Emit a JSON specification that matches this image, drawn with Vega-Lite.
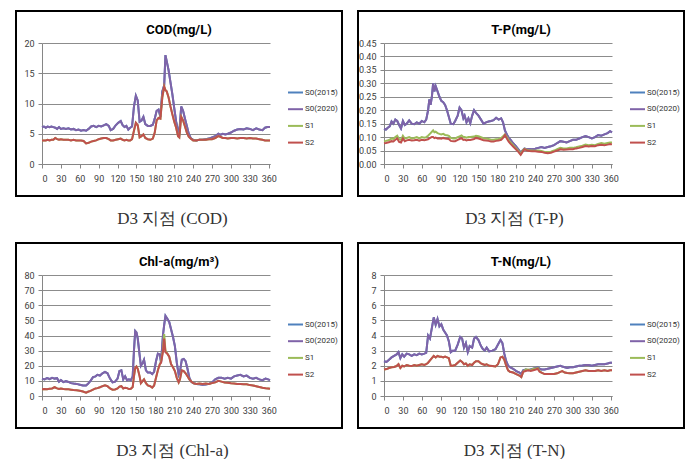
{
"$schema": "https://vega.github.io/schema/vega-lite/v6.json",
"padding": {"left": 15, "top": 10, "right": 0, "bottom": 0},
"background": "#ffffff",
"config": {
  "view": {"stroke": "#000000", "strokeWidth": 2},
  "font": "Roboto",
  "axis": {"labelFont": "Roboto", "labelFontSize": 9, "labelColor": "#404040", "domainColor": "#868686", "tickColor": "#868686", "gridColor": "#8c8c8c", "gridWidth": 1, "tickSize": 4, "titleFont": "Liberation Serif", "titleFontSize": 17, "titleFontWeight": "normal", "titleColor": "#333333"},
  "legend": {"symbolType": "stroke", "symbolSize": 225, "symbolStrokeWidth": 2.5, "labelFont": "Roboto", "labelFontSize": 8, "labelColor": "#333333", "labelOffset": 1, "rowPadding": 3.7, "padding": 0},
  "title": {"font": "Roboto", "fontSize": 13, "fontWeight": "bold", "color": "#000000"},
  "line": {"strokeWidth": 2}
},
"datasets": {
"cod": [
{"day":0,"S0(2015)":6.1,"S0(2020)":6.1,"S1":3.9,"S2":3.9},
{"day":3,"S0(2015)":6.2,"S0(2020)":6.2,"S1":3.9,"S2":3.9},
{"day":6,"S0(2015)":6.0,"S0(2020)":6.0,"S1":3.9,"S2":3.9},
{"day":9,"S0(2015)":6.2,"S0(2020)":6.2,"S1":4.0,"S2":4.0},
{"day":12,"S0(2015)":6.1,"S0(2020)":6.1,"S1":3.9,"S2":3.9},
{"day":15,"S0(2015)":6.2,"S0(2020)":6.2,"S1":4.0,"S2":4.0},
{"day":18,"S0(2015)":6.1,"S0(2020)":6.1,"S1":4.0,"S2":4.0},
{"day":21,"S0(2015)":6.0,"S0(2020)":6.0,"S1":4.3,"S2":4.3},
{"day":24,"S0(2015)":5.8,"S0(2020)":5.8,"S1":4.1,"S2":4.1},
{"day":27,"S0(2015)":6.1,"S0(2020)":6.1,"S1":4.0,"S2":4.0},
{"day":30,"S0(2015)":5.8,"S0(2020)":5.8,"S1":4.1,"S2":4.1},
{"day":34,"S0(2015)":5.9,"S0(2020)":5.9,"S1":4.0,"S2":4.0},
{"day":38,"S0(2015)":5.8,"S0(2020)":5.8,"S1":4.0,"S2":4.0},
{"day":42,"S0(2015)":5.9,"S0(2020)":5.9,"S1":4.0,"S2":4.0},
{"day":46,"S0(2015)":5.7,"S0(2020)":5.7,"S1":3.9,"S2":3.9},
{"day":50,"S0(2015)":5.8,"S0(2020)":5.8,"S1":4.0,"S2":4.0},
{"day":54,"S0(2015)":5.6,"S0(2020)":5.6,"S1":3.9,"S2":3.9},
{"day":58,"S0(2015)":5.7,"S0(2020)":5.7,"S1":3.9,"S2":3.9},
{"day":62,"S0(2015)":5.5,"S0(2020)":5.5,"S1":3.9,"S2":3.9},
{"day":66,"S0(2015)":5.6,"S0(2020)":5.6,"S1":3.8,"S2":3.8},
{"day":70,"S0(2015)":5.5,"S0(2020)":5.5,"S1":3.4,"S2":3.4},
{"day":74,"S0(2015)":5.8,"S0(2020)":5.8,"S1":3.5,"S2":3.5},
{"day":78,"S0(2015)":6.2,"S0(2020)":6.2,"S1":3.7,"S2":3.7},
{"day":82,"S0(2015)":6.3,"S0(2020)":6.3,"S1":3.8,"S2":3.8},
{"day":86,"S0(2015)":6.1,"S0(2020)":6.1,"S1":3.9,"S2":3.9},
{"day":90,"S0(2015)":6.3,"S0(2020)":6.3,"S1":4.1,"S2":4.1},
{"day":94,"S0(2015)":6.2,"S0(2020)":6.2,"S1":4.2,"S2":4.2},
{"day":98,"S0(2015)":6.4,"S0(2020)":6.4,"S1":4.3,"S2":4.3},
{"day":102,"S0(2015)":6.6,"S0(2020)":6.6,"S1":4.3,"S2":4.3},
{"day":106,"S0(2015)":6.3,"S0(2020)":6.3,"S1":4.1,"S2":4.1},
{"day":109,"S0(2015)":5.6,"S0(2020)":5.6,"S1":3.9,"S2":3.9},
{"day":113,"S0(2015)":5.8,"S0(2020)":5.8,"S1":3.9,"S2":3.9},
{"day":117,"S0(2015)":6.4,"S0(2020)":6.4,"S1":4.0,"S2":4.0},
{"day":121,"S0(2015)":6.8,"S0(2020)":6.8,"S1":4.1,"S2":4.1},
{"day":125,"S0(2015)":7.1,"S0(2020)":7.1,"S1":4.2,"S2":4.2},
{"day":128,"S0(2015)":6.4,"S0(2020)":6.4,"S1":4.0,"S2":4.0},
{"day":131,"S0(2015)":6.1,"S0(2020)":6.1,"S1":3.9,"S2":3.9},
{"day":134,"S0(2015)":6.3,"S0(2020)":6.3,"S1":4.0,"S2":4.0},
{"day":137,"S0(2015)":5.7,"S0(2020)":5.7,"S1":3.9,"S2":3.9},
{"day":140,"S0(2015)":6.0,"S0(2020)":6.0,"S1":3.9,"S2":3.9},
{"day":143,"S0(2015)":6.2,"S0(2020)":6.2,"S1":4.1,"S2":4.1},
{"day":146,"S0(2015)":9.5,"S0(2020)":9.5,"S1":5.5,"S2":5.5},
{"day":149,"S0(2015)":11.3,"S0(2020)":11.3,"S1":6.8,"S2":6.8},
{"day":152,"S0(2015)":10.5,"S0(2020)":10.5,"S1":6.4,"S2":6.4},
{"day":155,"S0(2015)":7.0,"S0(2020)":7.0,"S1":4.4,"S2":4.4},
{"day":158,"S0(2015)":7.2,"S0(2020)":7.2,"S1":4.6,"S2":4.6},
{"day":161,"S0(2015)":7.8,"S0(2020)":7.8,"S1":4.9,"S2":4.9},
{"day":164,"S0(2015)":6.6,"S0(2020)":6.6,"S1":4.3,"S2":4.3},
{"day":168,"S0(2015)":6.3,"S0(2020)":6.3,"S1":4.1,"S2":4.1},
{"day":172,"S0(2015)":6.3,"S0(2020)":6.3,"S1":4.0,"S2":4.0},
{"day":176,"S0(2015)":6.5,"S0(2020)":6.5,"S1":4.2,"S2":4.2},
{"day":179,"S0(2015)":7.5,"S0(2020)":7.5,"S1":5.2,"S2":5.2},
{"day":182,"S0(2015)":8.8,"S0(2020)":8.8,"S1":7.2,"S2":7.2},
{"day":185,"S0(2015)":9.0,"S0(2020)":9.0,"S1":7.6,"S2":7.6},
{"day":188,"S0(2015)":7.8,"S0(2020)":7.8,"S1":7.5,"S2":7.5},
{"day":191,"S0(2015)":12.0,"S0(2020)":12.0,"S1":11.0,"S2":11.0},
{"day":194,"S0(2015)":13.0,"S0(2020)":13.0,"S1":12.8,"S2":12.8},
{"day":196,"S0(2015)":18.0,"S0(2020)":18.0,"S1":12.2,"S2":12.2},
{"day":198,"S0(2015)":17.0,"S0(2020)":17.0,"S1":12.0,"S2":12.0},
{"day":201,"S0(2015)":15.5,"S0(2020)":15.5,"S1":11.0,"S2":11.0},
{"day":204,"S0(2015)":13.5,"S0(2020)":13.5,"S1":9.5,"S2":9.5},
{"day":207,"S0(2015)":11.5,"S0(2020)":11.5,"S1":8.2,"S2":8.2},
{"day":210,"S0(2015)":9.2,"S0(2020)":9.2,"S1":7.0,"S2":7.0},
{"day":213,"S0(2015)":7.0,"S0(2020)":7.0,"S1":6.0,"S2":6.0},
{"day":216,"S0(2015)":5.5,"S0(2020)":5.5,"S1":4.6,"S2":4.6},
{"day":218,"S0(2015)":5.2,"S0(2020)":5.2,"S1":4.4,"S2":4.4},
{"day":221,"S0(2015)":9.5,"S0(2020)":9.5,"S1":7.8,"S2":7.8},
{"day":224,"S0(2015)":8.8,"S0(2020)":8.8,"S1":7.2,"S2":7.2},
{"day":227,"S0(2015)":7.5,"S0(2020)":7.5,"S1":6.2,"S2":6.2},
{"day":230,"S0(2015)":6.3,"S0(2020)":6.3,"S1":5.2,"S2":5.2},
{"day":233,"S0(2015)":5.0,"S0(2020)":5.0,"S1":4.5,"S2":4.5},
{"day":236,"S0(2015)":4.3,"S0(2020)":4.3,"S1":4.2,"S2":4.2},
{"day":240,"S0(2015)":4.0,"S0(2020)":4.0,"S1":3.9,"S2":3.9},
{"day":245,"S0(2015)":3.9,"S0(2020)":3.9,"S1":3.9,"S2":3.9},
{"day":250,"S0(2015)":4.0,"S0(2020)":4.0,"S1":4.0,"S2":4.0},
{"day":255,"S0(2015)":4.0,"S0(2020)":4.0,"S1":4.0,"S2":4.0},
{"day":260,"S0(2015)":4.1,"S0(2020)":4.1,"S1":4.0,"S2":4.0},
{"day":265,"S0(2015)":4.2,"S0(2020)":4.2,"S1":4.1,"S2":4.1},
{"day":270,"S0(2015)":4.4,"S0(2020)":4.4,"S1":4.1,"S2":4.1},
{"day":275,"S0(2015)":4.6,"S0(2020)":4.6,"S1":4.3,"S2":4.3},
{"day":280,"S0(2015)":5.0,"S0(2020)":5.0,"S1":4.6,"S2":4.6},
{"day":283,"S0(2015)":4.8,"S0(2020)":4.8,"S1":4.5,"S2":4.5},
{"day":287,"S0(2015)":5.0,"S0(2020)":5.0,"S1":4.3,"S2":4.3},
{"day":291,"S0(2015)":4.9,"S0(2020)":4.9,"S1":4.3,"S2":4.3},
{"day":295,"S0(2015)":5.0,"S0(2020)":5.0,"S1":4.2,"S2":4.2},
{"day":300,"S0(2015)":5.2,"S0(2020)":5.2,"S1":4.3,"S2":4.3},
{"day":305,"S0(2015)":5.5,"S0(2020)":5.5,"S1":4.3,"S2":4.3},
{"day":310,"S0(2015)":5.7,"S0(2020)":5.7,"S1":4.2,"S2":4.2},
{"day":315,"S0(2015)":5.8,"S0(2020)":5.8,"S1":4.3,"S2":4.3},
{"day":320,"S0(2015)":5.7,"S0(2020)":5.7,"S1":4.3,"S2":4.3},
{"day":325,"S0(2015)":5.9,"S0(2020)":5.9,"S1":4.2,"S2":4.2},
{"day":330,"S0(2015)":5.8,"S0(2020)":5.8,"S1":4.3,"S2":4.3},
{"day":335,"S0(2015)":5.6,"S0(2020)":5.6,"S1":4.2,"S2":4.2},
{"day":340,"S0(2015)":5.9,"S0(2020)":5.9,"S1":4.2,"S2":4.2},
{"day":345,"S0(2015)":5.7,"S0(2020)":5.7,"S1":4.1,"S2":4.1},
{"day":350,"S0(2015)":5.6,"S0(2020)":5.6,"S1":4.0,"S2":4.0},
{"day":354,"S0(2015)":6.0,"S0(2020)":6.0,"S1":3.9,"S2":3.9},
{"day":358,"S0(2015)":6.1,"S0(2020)":6.1,"S1":3.9,"S2":3.9},
{"day":362,"S0(2015)":6.1,"S0(2020)":6.1,"S1":3.9,"S2":3.9}
],
"tp": [
{"day":0,"S0(2015)":0.130,"S0(2020)":0.130,"S1":0.085,"S2":0.077},
{"day":3,"S0(2015)":0.128,"S0(2020)":0.128,"S1":0.086,"S2":0.078},
{"day":6,"S0(2015)":0.135,"S0(2020)":0.135,"S1":0.088,"S2":0.080},
{"day":9,"S0(2015)":0.140,"S0(2020)":0.140,"S1":0.090,"S2":0.082},
{"day":12,"S0(2015)":0.158,"S0(2020)":0.158,"S1":0.095,"S2":0.085},
{"day":15,"S0(2015)":0.150,"S0(2020)":0.150,"S1":0.093,"S2":0.084},
{"day":18,"S0(2015)":0.165,"S0(2020)":0.165,"S1":0.100,"S2":0.090},
{"day":21,"S0(2015)":0.160,"S0(2020)":0.160,"S1":0.105,"S2":0.095},
{"day":24,"S0(2015)":0.145,"S0(2020)":0.145,"S1":0.092,"S2":0.082},
{"day":27,"S0(2015)":0.132,"S0(2020)":0.132,"S1":0.090,"S2":0.080},
{"day":30,"S0(2015)":0.160,"S0(2020)":0.160,"S1":0.105,"S2":0.095},
{"day":33,"S0(2015)":0.145,"S0(2020)":0.145,"S1":0.095,"S2":0.085},
{"day":36,"S0(2015)":0.150,"S0(2020)":0.150,"S1":0.097,"S2":0.088},
{"day":40,"S0(2015)":0.162,"S0(2020)":0.162,"S1":0.100,"S2":0.090},
{"day":44,"S0(2015)":0.150,"S0(2020)":0.150,"S1":0.095,"S2":0.087},
{"day":48,"S0(2015)":0.148,"S0(2020)":0.148,"S1":0.097,"S2":0.088},
{"day":52,"S0(2015)":0.155,"S0(2020)":0.155,"S1":0.100,"S2":0.090},
{"day":56,"S0(2015)":0.150,"S0(2020)":0.150,"S1":0.095,"S2":0.087},
{"day":60,"S0(2015)":0.160,"S0(2020)":0.160,"S1":0.100,"S2":0.090},
{"day":64,"S0(2015)":0.155,"S0(2020)":0.155,"S1":0.098,"S2":0.088},
{"day":67,"S0(2015)":0.165,"S0(2020)":0.165,"S1":0.100,"S2":0.090},
{"day":70,"S0(2015)":0.200,"S0(2020)":0.200,"S1":0.105,"S2":0.092},
{"day":72,"S0(2015)":0.240,"S0(2020)":0.240,"S1":0.110,"S2":0.095},
{"day":74,"S0(2015)":0.220,"S0(2020)":0.220,"S1":0.115,"S2":0.098},
{"day":76,"S0(2015)":0.250,"S0(2020)":0.250,"S1":0.120,"S2":0.100},
{"day":78,"S0(2015)":0.300,"S0(2020)":0.300,"S1":0.125,"S2":0.100},
{"day":80,"S0(2015)":0.270,"S0(2020)":0.270,"S1":0.118,"S2":0.096},
{"day":82,"S0(2015)":0.290,"S0(2020)":0.290,"S1":0.120,"S2":0.098},
{"day":85,"S0(2015)":0.270,"S0(2020)":0.270,"S1":0.115,"S2":0.095},
{"day":88,"S0(2015)":0.250,"S0(2020)":0.250,"S1":0.112,"S2":0.096},
{"day":91,"S0(2015)":0.235,"S0(2020)":0.235,"S1":0.110,"S2":0.094},
{"day":94,"S0(2015)":0.230,"S0(2020)":0.230,"S1":0.112,"S2":0.097},
{"day":97,"S0(2015)":0.220,"S0(2020)":0.220,"S1":0.108,"S2":0.095},
{"day":100,"S0(2015)":0.200,"S0(2020)":0.200,"S1":0.107,"S2":0.094},
{"day":103,"S0(2015)":0.175,"S0(2020)":0.175,"S1":0.105,"S2":0.093},
{"day":106,"S0(2015)":0.150,"S0(2020)":0.150,"S1":0.097,"S2":0.086},
{"day":110,"S0(2015)":0.148,"S0(2020)":0.148,"S1":0.095,"S2":0.085},
{"day":113,"S0(2015)":0.160,"S0(2020)":0.160,"S1":0.095,"S2":0.085},
{"day":117,"S0(2015)":0.180,"S0(2020)":0.180,"S1":0.100,"S2":0.090},
{"day":120,"S0(2015)":0.210,"S0(2020)":0.210,"S1":0.103,"S2":0.093},
{"day":123,"S0(2015)":0.200,"S0(2020)":0.200,"S1":0.106,"S2":0.096},
{"day":126,"S0(2015)":0.170,"S0(2020)":0.170,"S1":0.100,"S2":0.090},
{"day":128,"S0(2015)":0.180,"S0(2020)":0.180,"S1":0.100,"S2":0.091},
{"day":131,"S0(2015)":0.155,"S0(2020)":0.155,"S1":0.098,"S2":0.088},
{"day":134,"S0(2015)":0.170,"S0(2020)":0.170,"S1":0.100,"S2":0.090},
{"day":137,"S0(2015)":0.152,"S0(2020)":0.152,"S1":0.100,"S2":0.089},
{"day":140,"S0(2015)":0.180,"S0(2020)":0.180,"S1":0.101,"S2":0.091},
{"day":143,"S0(2015)":0.200,"S0(2020)":0.200,"S1":0.102,"S2":0.093},
{"day":146,"S0(2015)":0.190,"S0(2020)":0.190,"S1":0.105,"S2":0.097},
{"day":150,"S0(2015)":0.180,"S0(2020)":0.180,"S1":0.103,"S2":0.095},
{"day":154,"S0(2015)":0.165,"S0(2020)":0.165,"S1":0.100,"S2":0.092},
{"day":158,"S0(2015)":0.150,"S0(2020)":0.150,"S1":0.096,"S2":0.088},
{"day":162,"S0(2015)":0.155,"S0(2020)":0.155,"S1":0.095,"S2":0.087},
{"day":166,"S0(2015)":0.158,"S0(2020)":0.158,"S1":0.093,"S2":0.086},
{"day":170,"S0(2015)":0.160,"S0(2020)":0.160,"S1":0.090,"S2":0.084},
{"day":174,"S0(2015)":0.163,"S0(2020)":0.163,"S1":0.090,"S2":0.084},
{"day":178,"S0(2015)":0.172,"S0(2020)":0.172,"S1":0.092,"S2":0.086},
{"day":182,"S0(2015)":0.165,"S0(2020)":0.165,"S1":0.093,"S2":0.087},
{"day":186,"S0(2015)":0.170,"S0(2020)":0.170,"S1":0.097,"S2":0.090},
{"day":189,"S0(2015)":0.155,"S0(2020)":0.155,"S1":0.103,"S2":0.097},
{"day":192,"S0(2015)":0.125,"S0(2020)":0.125,"S1":0.110,"S2":0.108},
{"day":195,"S0(2015)":0.110,"S0(2020)":0.110,"S1":0.100,"S2":0.095},
{"day":198,"S0(2015)":0.098,"S0(2020)":0.098,"S1":0.088,"S2":0.083},
{"day":201,"S0(2015)":0.090,"S0(2020)":0.090,"S1":0.080,"S2":0.075},
{"day":205,"S0(2015)":0.077,"S0(2020)":0.077,"S1":0.070,"S2":0.065},
{"day":209,"S0(2015)":0.067,"S0(2020)":0.067,"S1":0.060,"S2":0.056},
{"day":213,"S0(2015)":0.055,"S0(2020)":0.055,"S1":0.050,"S2":0.046},
{"day":217,"S0(2015)":0.042,"S0(2020)":0.042,"S1":0.037,"S2":0.034},
{"day":220,"S0(2015)":0.050,"S0(2020)":0.050,"S1":0.050,"S2":0.045},
{"day":223,"S0(2015)":0.057,"S0(2020)":0.057,"S1":0.056,"S2":0.055},
{"day":227,"S0(2015)":0.055,"S0(2020)":0.055,"S1":0.052,"S2":0.050},
{"day":231,"S0(2015)":0.056,"S0(2020)":0.056,"S1":0.050,"S2":0.048},
{"day":235,"S0(2015)":0.055,"S0(2020)":0.055,"S1":0.050,"S2":0.047},
{"day":240,"S0(2015)":0.057,"S0(2020)":0.057,"S1":0.049,"S2":0.047},
{"day":245,"S0(2015)":0.060,"S0(2020)":0.060,"S1":0.050,"S2":0.046},
{"day":250,"S0(2015)":0.063,"S0(2020)":0.063,"S1":0.048,"S2":0.045},
{"day":255,"S0(2015)":0.060,"S0(2020)":0.060,"S1":0.045,"S2":0.042},
{"day":260,"S0(2015)":0.063,"S0(2020)":0.063,"S1":0.045,"S2":0.040},
{"day":265,"S0(2015)":0.066,"S0(2020)":0.066,"S1":0.046,"S2":0.042},
{"day":270,"S0(2015)":0.070,"S0(2020)":0.070,"S1":0.050,"S2":0.046},
{"day":275,"S0(2015)":0.078,"S0(2020)":0.078,"S1":0.055,"S2":0.050},
{"day":280,"S0(2015)":0.085,"S0(2020)":0.085,"S1":0.060,"S2":0.055},
{"day":285,"S0(2015)":0.083,"S0(2020)":0.083,"S1":0.058,"S2":0.053},
{"day":290,"S0(2015)":0.080,"S0(2020)":0.080,"S1":0.058,"S2":0.054},
{"day":295,"S0(2015)":0.085,"S0(2020)":0.085,"S1":0.060,"S2":0.055},
{"day":300,"S0(2015)":0.090,"S0(2020)":0.090,"S1":0.060,"S2":0.055},
{"day":305,"S0(2015)":0.090,"S0(2020)":0.090,"S1":0.062,"S2":0.058},
{"day":310,"S0(2015)":0.095,"S0(2020)":0.095,"S1":0.065,"S2":0.060},
{"day":315,"S0(2015)":0.100,"S0(2020)":0.100,"S1":0.068,"S2":0.063},
{"day":320,"S0(2015)":0.104,"S0(2020)":0.104,"S1":0.072,"S2":0.067},
{"day":325,"S0(2015)":0.100,"S0(2020)":0.100,"S1":0.070,"S2":0.065},
{"day":330,"S0(2015)":0.095,"S0(2020)":0.095,"S1":0.072,"S2":0.067},
{"day":335,"S0(2015)":0.100,"S0(2020)":0.100,"S1":0.070,"S2":0.066},
{"day":340,"S0(2015)":0.108,"S0(2020)":0.108,"S1":0.075,"S2":0.070},
{"day":345,"S0(2015)":0.105,"S0(2020)":0.105,"S1":0.078,"S2":0.072},
{"day":350,"S0(2015)":0.110,"S0(2020)":0.110,"S1":0.075,"S2":0.070},
{"day":355,"S0(2015)":0.115,"S0(2020)":0.115,"S1":0.078,"S2":0.072},
{"day":359,"S0(2015)":0.122,"S0(2020)":0.122,"S1":0.080,"S2":0.074},
{"day":362,"S0(2015)":0.118,"S0(2020)":0.118,"S1":0.080,"S2":0.073}
],
"chl": [
{"day":0,"S0(2015)":11.5,"S0(2020)":11.5,"S1":4.5,"S2":4.5},
{"day":4,"S0(2015)":11.0,"S0(2020)":11.0,"S1":4.6,"S2":4.6},
{"day":8,"S0(2015)":11.8,"S0(2020)":11.8,"S1":4.5,"S2":4.5},
{"day":12,"S0(2015)":11.2,"S0(2020)":11.2,"S1":4.8,"S2":4.8},
{"day":16,"S0(2015)":12.0,"S0(2020)":12.0,"S1":5.0,"S2":5.0},
{"day":20,"S0(2015)":11.5,"S0(2020)":11.5,"S1":5.8,"S2":5.8},
{"day":24,"S0(2015)":11.8,"S0(2020)":11.8,"S1":5.0,"S2":5.0},
{"day":27,"S0(2015)":9.5,"S0(2020)":9.5,"S1":4.6,"S2":4.6},
{"day":30,"S0(2015)":10.5,"S0(2020)":10.5,"S1":5.0,"S2":5.0},
{"day":34,"S0(2015)":9.2,"S0(2020)":9.2,"S1":4.6,"S2":4.6},
{"day":38,"S0(2015)":9.8,"S0(2020)":9.8,"S1":4.5,"S2":4.5},
{"day":42,"S0(2015)":9.3,"S0(2020)":9.3,"S1":4.4,"S2":4.4},
{"day":46,"S0(2015)":8.5,"S0(2020)":8.5,"S1":4.2,"S2":4.2},
{"day":50,"S0(2015)":8.2,"S0(2020)":8.2,"S1":4.0,"S2":4.0},
{"day":55,"S0(2015)":8.0,"S0(2020)":8.0,"S1":3.8,"S2":3.8},
{"day":60,"S0(2015)":7.5,"S0(2020)":7.5,"S1":3.5,"S2":3.5},
{"day":65,"S0(2015)":7.0,"S0(2020)":7.0,"S1":3.0,"S2":3.0},
{"day":70,"S0(2015)":7.0,"S0(2020)":7.0,"S1":2.2,"S2":2.2},
{"day":73,"S0(2015)":8.0,"S0(2020)":8.0,"S1":2.8,"S2":2.8},
{"day":77,"S0(2015)":10.0,"S0(2020)":10.0,"S1":3.4,"S2":3.4},
{"day":81,"S0(2015)":12.5,"S0(2020)":12.5,"S1":4.2,"S2":4.2},
{"day":85,"S0(2015)":13.0,"S0(2020)":13.0,"S1":5.0,"S2":5.0},
{"day":88,"S0(2015)":14.0,"S0(2020)":14.0,"S1":5.2,"S2":5.2},
{"day":92,"S0(2015)":13.5,"S0(2020)":13.5,"S1":5.8,"S2":5.8},
{"day":96,"S0(2015)":15.0,"S0(2020)":15.0,"S1":6.5,"S2":6.5},
{"day":100,"S0(2015)":16.0,"S0(2020)":16.0,"S1":7.0,"S2":7.0},
{"day":104,"S0(2015)":15.0,"S0(2020)":15.0,"S1":6.5,"S2":6.5},
{"day":108,"S0(2015)":11.5,"S0(2020)":11.5,"S1":5.0,"S2":5.0},
{"day":112,"S0(2015)":9.0,"S0(2020)":9.0,"S1":4.2,"S2":4.2},
{"day":116,"S0(2015)":9.5,"S0(2020)":9.5,"S1":4.3,"S2":4.3},
{"day":120,"S0(2015)":11.5,"S0(2020)":11.5,"S1":5.0,"S2":5.0},
{"day":123,"S0(2015)":16.5,"S0(2020)":16.5,"S1":6.2,"S2":6.2},
{"day":126,"S0(2015)":17.0,"S0(2020)":17.0,"S1":6.5,"S2":6.5},
{"day":129,"S0(2015)":11.0,"S0(2020)":11.0,"S1":5.0,"S2":5.0},
{"day":132,"S0(2015)":13.0,"S0(2020)":13.0,"S1":5.5,"S2":5.5},
{"day":135,"S0(2015)":10.5,"S0(2020)":10.5,"S1":5.2,"S2":5.2},
{"day":138,"S0(2015)":11.0,"S0(2020)":11.0,"S1":4.6,"S2":4.6},
{"day":141,"S0(2015)":10.5,"S0(2020)":10.5,"S1":4.8,"S2":4.8},
{"day":144,"S0(2015)":13.0,"S0(2020)":13.0,"S1":6.0,"S2":6.0},
{"day":146,"S0(2015)":30.0,"S0(2020)":30.0,"S1":13.0,"S2":13.0},
{"day":148,"S0(2015)":43.0,"S0(2020)":43.0,"S1":18.5,"S2":18.5},
{"day":150,"S0(2015)":42.0,"S0(2020)":42.0,"S1":19.5,"S2":19.5},
{"day":152,"S0(2015)":38.0,"S0(2020)":38.0,"S1":18.0,"S2":18.0},
{"day":155,"S0(2015)":27.0,"S0(2020)":27.0,"S1":13.0,"S2":13.0},
{"day":157,"S0(2015)":20.0,"S0(2020)":20.0,"S1":8.5,"S2":8.5},
{"day":160,"S0(2015)":22.0,"S0(2020)":22.0,"S1":10.0,"S2":10.0},
{"day":162,"S0(2015)":24.0,"S0(2020)":24.0,"S1":11.0,"S2":11.0},
{"day":165,"S0(2015)":17.0,"S0(2020)":17.0,"S1":8.5,"S2":8.5},
{"day":168,"S0(2015)":15.5,"S0(2020)":15.5,"S1":7.0,"S2":7.0},
{"day":172,"S0(2015)":15.5,"S0(2020)":15.5,"S1":6.5,"S2":6.5},
{"day":175,"S0(2015)":14.5,"S0(2020)":14.5,"S1":5.5,"S2":5.5},
{"day":178,"S0(2015)":16.0,"S0(2020)":16.0,"S1":7.0,"S2":7.0},
{"day":181,"S0(2015)":23.0,"S0(2020)":23.0,"S1":12.0,"S2":12.0},
{"day":184,"S0(2015)":28.0,"S0(2020)":28.0,"S1":17.0,"S2":17.0},
{"day":187,"S0(2015)":27.5,"S0(2020)":27.5,"S1":21.0,"S2":21.0},
{"day":189,"S0(2015)":22.0,"S0(2020)":22.0,"S1":23.0,"S2":22.0},
{"day":192,"S0(2015)":40.0,"S0(2020)":40.0,"S1":30.0,"S2":29.0},
{"day":194,"S0(2015)":47.0,"S0(2020)":47.0,"S1":41.0,"S2":38.0},
{"day":196,"S0(2015)":53.0,"S0(2020)":53.0,"S1":30.0,"S2":29.0},
{"day":199,"S0(2015)":51.0,"S0(2020)":51.0,"S1":28.0,"S2":28.0},
{"day":202,"S0(2015)":49.0,"S0(2020)":49.0,"S1":26.0,"S2":26.0},
{"day":205,"S0(2015)":44.0,"S0(2020)":44.0,"S1":21.0,"S2":21.0},
{"day":208,"S0(2015)":39.0,"S0(2020)":39.0,"S1":19.0,"S2":19.0},
{"day":211,"S0(2015)":33.0,"S0(2020)":33.0,"S1":16.5,"S2":16.5},
{"day":214,"S0(2015)":22.0,"S0(2020)":22.0,"S1":12.0,"S2":12.0},
{"day":217,"S0(2015)":14.0,"S0(2020)":14.0,"S1":9.0,"S2":9.0},
{"day":219,"S0(2015)":16.0,"S0(2020)":16.0,"S1":11.0,"S2":11.0},
{"day":222,"S0(2015)":24.0,"S0(2020)":24.0,"S1":17.0,"S2":17.0},
{"day":225,"S0(2015)":24.5,"S0(2020)":24.5,"S1":16.5,"S2":16.5},
{"day":228,"S0(2015)":23.0,"S0(2020)":23.0,"S1":15.0,"S2":15.0},
{"day":231,"S0(2015)":18.0,"S0(2020)":18.0,"S1":13.0,"S2":13.0},
{"day":234,"S0(2015)":12.0,"S0(2020)":12.0,"S1":11.0,"S2":11.0},
{"day":237,"S0(2015)":9.5,"S0(2020)":9.5,"S1":9.5,"S2":9.5},
{"day":240,"S0(2015)":8.5,"S0(2020)":8.5,"S1":8.5,"S2":8.5},
{"day":245,"S0(2015)":8.0,"S0(2020)":8.0,"S1":8.0,"S2":8.0},
{"day":250,"S0(2015)":7.8,"S0(2020)":7.8,"S1":8.2,"S2":8.2},
{"day":255,"S0(2015)":7.5,"S0(2020)":7.5,"S1":8.0,"S2":8.0},
{"day":260,"S0(2015)":7.6,"S0(2020)":7.6,"S1":8.2,"S2":8.2},
{"day":265,"S0(2015)":8.0,"S0(2020)":8.0,"S1":8.0,"S2":8.0},
{"day":270,"S0(2015)":9.0,"S0(2020)":9.0,"S1":8.5,"S2":8.5},
{"day":275,"S0(2015)":11.0,"S0(2020)":11.0,"S1":9.0,"S2":9.0},
{"day":280,"S0(2015)":12.0,"S0(2020)":12.0,"S1":10.0,"S2":10.0},
{"day":285,"S0(2015)":12.0,"S0(2020)":12.0,"S1":9.5,"S2":9.5},
{"day":290,"S0(2015)":11.5,"S0(2020)":11.5,"S1":9.0,"S2":9.0},
{"day":295,"S0(2015)":12.0,"S0(2020)":12.0,"S1":8.8,"S2":8.8},
{"day":300,"S0(2015)":11.5,"S0(2020)":11.5,"S1":8.5,"S2":8.5},
{"day":305,"S0(2015)":13.0,"S0(2020)":13.0,"S1":8.3,"S2":8.3},
{"day":310,"S0(2015)":13.5,"S0(2020)":13.5,"S1":8.0,"S2":8.0},
{"day":315,"S0(2015)":14.0,"S0(2020)":14.0,"S1":8.0,"S2":8.0},
{"day":320,"S0(2015)":13.0,"S0(2020)":13.0,"S1":7.8,"S2":7.8},
{"day":325,"S0(2015)":13.5,"S0(2020)":13.5,"S1":7.8,"S2":7.8},
{"day":330,"S0(2015)":12.0,"S0(2020)":12.0,"S1":7.2,"S2":7.2},
{"day":335,"S0(2015)":11.5,"S0(2020)":11.5,"S1":7.0,"S2":7.0},
{"day":340,"S0(2015)":12.0,"S0(2020)":12.0,"S1":6.5,"S2":6.5},
{"day":345,"S0(2015)":11.0,"S0(2020)":11.0,"S1":6.0,"S2":6.0},
{"day":350,"S0(2015)":10.5,"S0(2020)":10.5,"S1":5.5,"S2":5.5},
{"day":355,"S0(2015)":11.5,"S0(2020)":11.5,"S1":5.2,"S2":5.2},
{"day":359,"S0(2015)":11.0,"S0(2020)":11.0,"S1":5.0,"S2":5.0},
{"day":362,"S0(2015)":10.5,"S0(2020)":10.5,"S1":4.8,"S2":4.8}
],
"tn": [
{"day":0,"S0(2015)":2.3,"S0(2020)":2.3,"S1":1.75,"S2":1.75},
{"day":4,"S0(2015)":2.25,"S0(2020)":2.25,"S1":1.78,"S2":1.78},
{"day":8,"S0(2015)":2.4,"S0(2020)":2.4,"S1":1.85,"S2":1.85},
{"day":12,"S0(2015)":2.55,"S0(2020)":2.55,"S1":1.9,"S2":1.9},
{"day":16,"S0(2015)":2.65,"S0(2020)":2.65,"S1":1.92,"S2":1.92},
{"day":20,"S0(2015)":2.75,"S0(2020)":2.75,"S1":1.98,"S2":1.98},
{"day":23,"S0(2015)":2.9,"S0(2020)":2.9,"S1":2.1,"S2":2.1},
{"day":26,"S0(2015)":2.5,"S0(2020)":2.5,"S1":1.85,"S2":1.85},
{"day":29,"S0(2015)":2.75,"S0(2020)":2.75,"S1":2.0,"S2":2.0},
{"day":32,"S0(2015)":2.6,"S0(2020)":2.6,"S1":1.95,"S2":1.95},
{"day":36,"S0(2015)":2.8,"S0(2020)":2.8,"S1":2.05,"S2":2.05},
{"day":40,"S0(2015)":2.75,"S0(2020)":2.75,"S1":2.0,"S2":2.0},
{"day":44,"S0(2015)":2.65,"S0(2020)":2.65,"S1":1.98,"S2":1.98},
{"day":48,"S0(2015)":2.75,"S0(2020)":2.75,"S1":2.05,"S2":2.05},
{"day":52,"S0(2015)":2.7,"S0(2020)":2.7,"S1":2.0,"S2":2.0},
{"day":56,"S0(2015)":2.8,"S0(2020)":2.8,"S1":2.05,"S2":2.05},
{"day":60,"S0(2015)":2.75,"S0(2020)":2.75,"S1":2.1,"S2":2.1},
{"day":64,"S0(2015)":2.8,"S0(2020)":2.8,"S1":2.05,"S2":2.05},
{"day":67,"S0(2015)":2.85,"S0(2020)":2.85,"S1":2.1,"S2":2.1},
{"day":70,"S0(2015)":4.0,"S0(2020)":4.0,"S1":2.2,"S2":2.2},
{"day":73,"S0(2015)":3.8,"S0(2020)":3.8,"S1":2.35,"S2":2.35},
{"day":76,"S0(2015)":4.5,"S0(2020)":4.5,"S1":2.5,"S2":2.5},
{"day":79,"S0(2015)":5.2,"S0(2020)":5.2,"S1":2.65,"S2":2.65},
{"day":82,"S0(2015)":4.7,"S0(2020)":4.7,"S1":2.55,"S2":2.55},
{"day":85,"S0(2015)":5.1,"S0(2020)":5.1,"S1":2.65,"S2":2.65},
{"day":88,"S0(2015)":4.6,"S0(2020)":4.6,"S1":2.6,"S2":2.6},
{"day":91,"S0(2015)":4.75,"S0(2020)":4.75,"S1":2.6,"S2":2.6},
{"day":94,"S0(2015)":4.4,"S0(2020)":4.4,"S1":2.55,"S2":2.55},
{"day":97,"S0(2015)":4.2,"S0(2020)":4.2,"S1":2.6,"S2":2.6},
{"day":100,"S0(2015)":4.0,"S0(2020)":4.0,"S1":2.55,"S2":2.55},
{"day":103,"S0(2015)":3.6,"S0(2020)":3.6,"S1":2.5,"S2":2.5},
{"day":106,"S0(2015)":2.9,"S0(2020)":2.9,"S1":2.0,"S2":2.0},
{"day":109,"S0(2015)":3.0,"S0(2020)":3.0,"S1":2.0,"S2":2.0},
{"day":113,"S0(2015)":3.0,"S0(2020)":3.0,"S1":2.05,"S2":2.05},
{"day":117,"S0(2015)":3.4,"S0(2020)":3.4,"S1":2.2,"S2":2.2},
{"day":121,"S0(2015)":3.9,"S0(2020)":3.9,"S1":2.35,"S2":2.35},
{"day":124,"S0(2015)":3.8,"S0(2020)":3.8,"S1":2.25,"S2":2.25},
{"day":127,"S0(2015)":3.2,"S0(2020)":3.2,"S1":2.1,"S2":2.1},
{"day":130,"S0(2015)":3.5,"S0(2020)":3.5,"S1":2.15,"S2":2.15},
{"day":133,"S0(2015)":2.9,"S0(2020)":2.9,"S1":2.0,"S2":2.0},
{"day":136,"S0(2015)":3.3,"S0(2020)":3.3,"S1":2.1,"S2":2.1},
{"day":140,"S0(2015)":3.2,"S0(2020)":3.2,"S1":2.05,"S2":2.05},
{"day":143,"S0(2015)":3.8,"S0(2020)":3.8,"S1":2.2,"S2":2.2},
{"day":146,"S0(2015)":3.9,"S0(2020)":3.9,"S1":2.3,"S2":2.3},
{"day":150,"S0(2015)":3.7,"S0(2020)":3.7,"S1":2.3,"S2":2.3},
{"day":154,"S0(2015)":3.3,"S0(2020)":3.3,"S1":2.15,"S2":2.15},
{"day":157,"S0(2015)":3.1,"S0(2020)":3.1,"S1":2.1,"S2":2.1},
{"day":160,"S0(2015)":3.0,"S0(2020)":3.0,"S1":2.05,"S2":2.05},
{"day":163,"S0(2015)":3.2,"S0(2020)":3.2,"S1":2.1,"S2":2.1},
{"day":167,"S0(2015)":2.95,"S0(2020)":2.95,"S1":2.0,"S2":2.0},
{"day":172,"S0(2015)":3.0,"S0(2020)":3.0,"S1":1.98,"S2":1.98},
{"day":177,"S0(2015)":3.1,"S0(2020)":3.1,"S1":1.95,"S2":1.95},
{"day":181,"S0(2015)":3.4,"S0(2020)":3.4,"S1":2.1,"S2":2.1},
{"day":185,"S0(2015)":3.7,"S0(2020)":3.7,"S1":2.55,"S2":2.55},
{"day":188,"S0(2015)":3.5,"S0(2020)":3.5,"S1":2.6,"S2":2.6},
{"day":191,"S0(2015)":2.8,"S0(2020)":2.8,"S1":2.4,"S2":2.4},
{"day":194,"S0(2015)":2.3,"S0(2020)":2.3,"S1":2.0,"S2":2.0},
{"day":197,"S0(2015)":2.0,"S0(2020)":2.0,"S1":1.7,"S2":1.7},
{"day":200,"S0(2015)":1.9,"S0(2020)":1.9,"S1":1.6,"S2":1.6},
{"day":205,"S0(2015)":1.8,"S0(2020)":1.8,"S1":1.55,"S2":1.55},
{"day":210,"S0(2015)":1.65,"S0(2020)":1.65,"S1":1.45,"S2":1.45},
{"day":215,"S0(2015)":1.55,"S0(2020)":1.55,"S1":1.35,"S2":1.35},
{"day":218,"S0(2015)":1.45,"S0(2020)":1.45,"S1":1.25,"S2":1.25},
{"day":221,"S0(2015)":1.7,"S0(2020)":1.7,"S1":1.6,"S2":1.6},
{"day":225,"S0(2015)":1.75,"S0(2020)":1.75,"S1":1.75,"S2":1.65},
{"day":229,"S0(2015)":1.7,"S0(2020)":1.7,"S1":1.75,"S2":1.7},
{"day":233,"S0(2015)":1.75,"S0(2020)":1.75,"S1":1.7,"S2":1.65},
{"day":237,"S0(2015)":1.8,"S0(2020)":1.8,"S1":1.8,"S2":1.7},
{"day":241,"S0(2015)":1.85,"S0(2020)":1.85,"S1":1.8,"S2":1.75},
{"day":244,"S0(2015)":1.9,"S0(2020)":1.9,"S1":1.85,"S2":1.8},
{"day":247,"S0(2015)":1.8,"S0(2020)":1.8,"S1":1.65,"S2":1.6},
{"day":250,"S0(2015)":1.75,"S0(2020)":1.75,"S1":1.55,"S2":1.55},
{"day":255,"S0(2015)":1.75,"S0(2020)":1.75,"S1":1.45,"S2":1.45},
{"day":260,"S0(2015)":1.8,"S0(2020)":1.8,"S1":1.45,"S2":1.45},
{"day":265,"S0(2015)":1.85,"S0(2020)":1.85,"S1":1.45,"S2":1.45},
{"day":270,"S0(2015)":1.9,"S0(2020)":1.9,"S1":1.45,"S2":1.45},
{"day":275,"S0(2015)":1.95,"S0(2020)":1.95,"S1":1.5,"S2":1.5},
{"day":280,"S0(2015)":2.0,"S0(2020)":2.0,"S1":1.6,"S2":1.6},
{"day":283,"S0(2015)":1.95,"S0(2020)":1.95,"S1":1.65,"S2":1.65},
{"day":287,"S0(2015)":1.9,"S0(2020)":1.9,"S1":1.55,"S2":1.55},
{"day":291,"S0(2015)":1.85,"S0(2020)":1.85,"S1":1.52,"S2":1.52},
{"day":295,"S0(2015)":1.9,"S0(2020)":1.9,"S1":1.5,"S2":1.5},
{"day":300,"S0(2015)":1.9,"S0(2020)":1.9,"S1":1.5,"S2":1.5},
{"day":305,"S0(2015)":1.95,"S0(2020)":1.95,"S1":1.55,"S2":1.55},
{"day":310,"S0(2015)":2.0,"S0(2020)":2.0,"S1":1.6,"S2":1.6},
{"day":315,"S0(2015)":2.02,"S0(2020)":2.02,"S1":1.65,"S2":1.65},
{"day":320,"S0(2015)":2.05,"S0(2020)":2.05,"S1":1.7,"S2":1.7},
{"day":325,"S0(2015)":2.05,"S0(2020)":2.05,"S1":1.65,"S2":1.65},
{"day":330,"S0(2015)":2.0,"S0(2020)":2.0,"S1":1.65,"S2":1.65},
{"day":335,"S0(2015)":2.05,"S0(2020)":2.05,"S1":1.65,"S2":1.65},
{"day":340,"S0(2015)":2.1,"S0(2020)":2.1,"S1":1.7,"S2":1.7},
{"day":345,"S0(2015)":2.1,"S0(2020)":2.1,"S1":1.65,"S2":1.65},
{"day":350,"S0(2015)":2.1,"S0(2020)":2.1,"S1":1.7,"S2":1.7},
{"day":355,"S0(2015)":2.15,"S0(2020)":2.15,"S1":1.65,"S2":1.65},
{"day":359,"S0(2015)":2.2,"S0(2020)":2.2,"S1":1.7,"S2":1.7},
{"day":362,"S0(2015)":2.2,"S0(2020)":2.2,"S1":1.7,"S2":1.7}
]
},
"resolve": {"scale": {"color": "independent", "x": "independent", "y": "independent"}},
"spacing": 15,
"vconcat": [
{
 "spacing": 14,
 "resolve": {"scale": {"color": "independent", "x": "independent", "y": "independent"}},
 "hconcat": [
  {
   "width": 326, "height": 185,
   "title": {"text": "COD(mg/L)", "offset": -39, "frame": "group", "anchor": "middle", "baseline": "bottom"},
   "data": {"name": "cod"},
   "transform": [{"fold": ["S0(2015)", "S0(2020)", "S1", "S2"], "as": ["series", "value"]}],
   "mark": {"type": "line", "strokeWidth": 2},
   "encoding": {
    "x": {"field": "day", "type": "quantitative", "scale": {"domain": [0, 362], "range": [26, 254], "nice": false, "zero": false},
          "axis": {"values": [0,30,60,90,120,150,180,210,240,270,300,330,360], "grid": false, "offset": -32, "labelPadding": 6, "title": "D3 지점 (COD)", "titleX": 156, "titleY": 54, "titleBaseline": "middle", "titleAlign": "center"}},
    "y": {"field": "value", "type": "quantitative", "scale": {"domain": [0, 20], "range": [153, 32], "nice": false},
          "axis": {"values": [0,5,10,15,20], "grid": true, "offset": -26, "labelPadding": 4, "title": null}},
    "color": {"field": "series", "type": "nominal", "sort": ["S0(2015)", "S0(2020)", "S1", "S2"],
              "scale": {"domain": ["S0(2015)", "S0(2020)", "S1", "S2"], "range": ["#4F81BD", "#7F63A8", "#9BBB59", "#C0504D"]},
              "legend": {"title": null, "orient": "none", "legendX": 271, "legendY": 73}}
   }
  },
  {
   "width": 326, "height": 185,
   "title": {"text": "T-P(mg/L)", "offset": -39, "frame": "group", "anchor": "middle", "baseline": "bottom"},
   "data": {"name": "tp"},
   "transform": [{"fold": ["S0(2015)", "S0(2020)", "S1", "S2"], "as": ["series", "value"]}],
   "mark": {"type": "line", "strokeWidth": 2},
   "encoding": {
    "x": {"field": "day", "type": "quantitative", "scale": {"domain": [0, 362], "range": [26, 254], "nice": false, "zero": false},
          "axis": {"values": [0,30,60,90,120,150,180,210,240,270,300,330,360], "grid": false, "offset": -32, "labelPadding": 6, "title": "D3 지점 (T-P)", "titleX": 156, "titleY": 54, "titleBaseline": "middle", "titleAlign": "center"}},
    "y": {"field": "value", "type": "quantitative", "scale": {"domain": [0, 0.45], "range": [153, 32], "nice": false},
          "axis": {"values": [0,0.05,0.1,0.15,0.2,0.25,0.3,0.35,0.4,0.45], "format": ".2f", "grid": true, "offset": -26, "labelPadding": 4, "title": null}},
    "color": {"field": "series", "type": "nominal", "sort": ["S0(2015)", "S0(2020)", "S1", "S2"],
              "scale": {"domain": ["S0(2015)", "S0(2020)", "S1", "S2"], "range": ["#4F81BD", "#7F63A8", "#9BBB59", "#C0504D"]},
              "legend": {"title": null, "orient": "none", "legendX": 271, "legendY": 73}}
   }
  }
 ]
},
{
 "spacing": 14,
 "resolve": {"scale": {"color": "independent", "x": "independent", "y": "independent"}},
 "hconcat": [
  {
   "width": 326, "height": 185,
   "title": {"text": "Chl-a(mg/m³)", "offset": -39, "frame": "group", "anchor": "middle", "baseline": "bottom"},
   "data": {"name": "chl"},
   "transform": [{"fold": ["S0(2015)", "S0(2020)", "S1", "S2"], "as": ["series", "value"]}],
   "mark": {"type": "line", "strokeWidth": 2},
   "encoding": {
    "x": {"field": "day", "type": "quantitative", "scale": {"domain": [0, 362], "range": [26, 254], "nice": false, "zero": false},
          "axis": {"values": [0,30,60,90,120,150,180,210,240,270,300,330,360], "grid": false, "offset": -32, "labelPadding": 6, "title": "D3 지점 (Chl-a)", "titleX": 156, "titleY": 54, "titleBaseline": "middle", "titleAlign": "center"}},
    "y": {"field": "value", "type": "quantitative", "scale": {"domain": [0, 80], "range": [153, 32], "nice": false},
          "axis": {"values": [0,10,20,30,40,50,60,70,80], "grid": true, "offset": -26, "labelPadding": 4, "title": null}},
    "color": {"field": "series", "type": "nominal", "sort": ["S0(2015)", "S0(2020)", "S1", "S2"],
              "scale": {"domain": ["S0(2015)", "S0(2020)", "S1", "S2"], "range": ["#4F81BD", "#7F63A8", "#9BBB59", "#C0504D"]},
              "legend": {"title": null, "orient": "none", "legendX": 271, "legendY": 73}}
   }
  },
  {
   "width": 326, "height": 185,
   "title": {"text": "T-N(mg/L)", "offset": -39, "frame": "group", "anchor": "middle", "baseline": "bottom"},
   "data": {"name": "tn"},
   "transform": [{"fold": ["S0(2015)", "S0(2020)", "S1", "S2"], "as": ["series", "value"]}],
   "mark": {"type": "line", "strokeWidth": 2},
   "encoding": {
    "x": {"field": "day", "type": "quantitative", "scale": {"domain": [0, 362], "range": [26, 254], "nice": false, "zero": false},
          "axis": {"values": [0,30,60,90,120,150,180,210,240,270,300,330,360], "grid": false, "offset": -32, "labelPadding": 6, "title": "D3 지점 (T-N)", "titleX": 156, "titleY": 54, "titleBaseline": "middle", "titleAlign": "center"}},
    "y": {"field": "value", "type": "quantitative", "scale": {"domain": [0, 8], "range": [153, 32], "nice": false},
          "axis": {"values": [0,1,2,3,4,5,6,7,8], "grid": true, "offset": -26, "labelPadding": 4, "title": null}},
    "color": {"field": "series", "type": "nominal", "sort": ["S0(2015)", "S0(2020)", "S1", "S2"],
              "scale": {"domain": ["S0(2015)", "S0(2020)", "S1", "S2"], "range": ["#4F81BD", "#7F63A8", "#9BBB59", "#C0504D"]},
              "legend": {"title": null, "orient": "none", "legendX": 271, "legendY": 73}}
   }
  }
 ]
}
]
}
